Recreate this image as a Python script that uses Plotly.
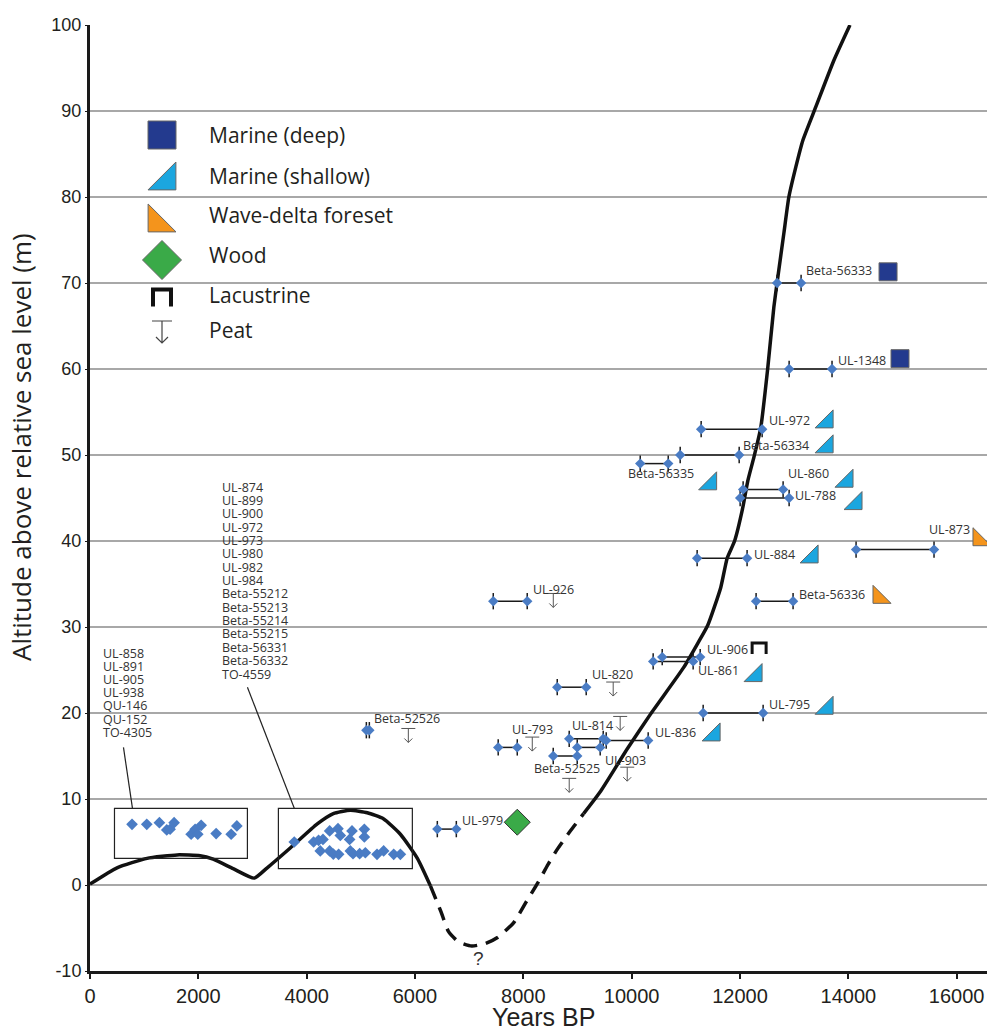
import plotly.graph_objects as go

# ---------------- data ----------------
sample_names = ["Beta-56333", "UL-1348", "UL-972", "Beta-56334", "Beta-56335", "UL-860",
                "UL-788", "UL-873", "UL-884", "Beta-56336", "UL-906", "UL-861", "UL-795",
                "UL-836", "UL-814", "UL-903", "UL-820", "UL-793", "Beta-52525", "UL-926",
                "Beta-52526", "UL-979"]
age_min = [12685, 12907, 11283, 10896, 10158, 12058, 12003, 14143, 11209, 12297, 10564, 10397,
           11320, 9530, 8847, 8995, 8626, 7536, 8552, 7445, 5102, 6412]
age_max = [13128, 13699, 12409, 11985, 10675, 12796, 12907, 15582, 12131, 12980, 11265, 11135,
           12427, 10305, 9475, 9419, 9161, 7888, 8995, 8072, 5157, 6763]
altitude = [70, 60, 53, 50, 49, 46, 45, 39, 38, 33, 26.5, 26, 20, 16.8, 17, 16, 23, 16, 15, 33,
            18, 6.5]
label_x = [13202, 13792, 12519, 12040, 9918, 12869, 12998, 15471, 12242, 13073, 11375, 11209,
           12519, 10416, 8884, 9493, 9253, 7776, 8182, 8164, 5231, 6855]
label_y = [71.5, 61.0, 54.0, 51.1, 47.9, 47.9, 45.3, 41.3, 38.4, 33.8, 27.4, 24.9, 21.0, 17.7,
           18.6, 14.5, 24.5, 18.1, 13.5, 34.4, 19.4, 7.5]

# sample-type symbols
deep_x = [14733, 14954]
deep_y = [71.3, 61.2]
shallow_x = [13608, 13608, 11458, 13976, 14142, 13331, 12297, 13608, 11522]
shallow_y = [53.85, 50.95, 46.65, 46.95, 44.35, 38.15, 24.35, 20.55, 17.45]
foreset_x = [16412, 14566]
foreset_y = [40.15, 33.45]
wood_x = [7888]
wood_y = [7.3]
lacustrine_x = [12353]
lacustrine_y = [27.5]
peat_x = [8553, 9659, 9788, 8165, 8847, 9918, 5877]
peat_y = [33.9, 23.6, 19.6, 17.2, 12.4, 13.7, 18.2]

# clustered Holocene samples (boxes)
box1_x = [776, 1048, 1281, 1417, 1479, 1553, 1867, 1941, 1990, 2052, 2329, 2606, 2711]
box1_y = [7.06, 7.06, 7.25, 6.40, 6.48, 7.25, 5.90, 6.48, 5.90, 6.94, 5.98, 5.90, 6.87]
box2_x = [3771, 4128, 4220, 4301, 4251, 4424, 4424, 4492, 4578, 4590, 4621, 4793, 4837, 4806,
          4856, 4978, 5065, 5065, 5083, 5299, 5421, 5607, 5730]
box2_y = [5.0, 5.0, 5.2, 5.3, 3.96, 6.29, 3.96, 3.6, 6.55, 3.57, 5.77, 5.3, 6.29, 3.96, 3.64,
          3.64, 6.47, 5.59, 3.75, 3.57, 3.96, 3.57, 3.57]
box1_labels = ["UL-858", "UL-891", "UL-905", "UL-938", "QU-146", "QU-152", "TO-4305"]
box2_labels = ["UL-874", "UL-899", "UL-900", "UL-972", "UL-973", "UL-980", "UL-982", "UL-984",
               "Beta-55212", "Beta-55213", "Beta-55214", "Beta-55215", "Beta-56331",
               "Beta-56332", "TO-4559"]

# relative sea-level curve
curve1_x = [0, 499, 1054, 1608, 2033, 2274, 2643, 3031, 3272, 3697, 4196, 4492, 4806, 5120,
            5416, 5730, 6044, 6285]
curve1_y = [0.1, 2.0, 3.1, 3.5, 3.4, 3.0, 1.9, 0.8, 2.0, 4.3, 7.1, 8.3, 8.7, 8.4, 7.7, 5.9,
            3.1, -0.1]
curve2_x = [6285, 6479, 6617, 6800, 7050, 7300, 7523, 7819, 8050, 8281, 8457, 8632, 8870, 9113]
curve2_y = [-0.1, -3.1, -5.4, -6.6, -7.1, -6.8, -6.1, -4.4, -2.0, 0.4, 2.4, 4.2, 6.3, 8.3]
curve3_x = [9113, 9427, 9926, 10351, 10961, 11220, 11405, 11645, 11763, 11900, 12052, 12144,
            12255, 12384, 12514, 12625, 12699, 12810, 12902, 13031, 13161, 13401, 13734, 14030]
curve3_y = [8.3, 10.9, 15.9, 19.9, 25.3, 28.1, 30.2, 34.6, 38.0, 40.0, 43.9, 47.0, 49.7, 53.2,
            60.2, 67.2, 70.7, 75.8, 80.0, 83.5, 86.6, 90.5, 95.9, 100]

x_ticks = [0, 2000, 4000, 6000, 8000, 10000, 12000, 14000, 16000]
y_ticks = [-10, 0, 10, 20, 30, 40, 50, 60, 70, 80, 90, 100]
legend_labels = ["Marine (deep)", "Marine (shallow)", "Wave-delta foreset", "Wood",
                 "Lacustrine", "Peat"]

# ---------------- layout helpers ----------------
W, H = 987, 1030
ML, MR, MT, MB = 90, 0, 25, 59
PW, PH = W - ML - MR, H - MT - MB


def pxx(px):
    return (px - ML) / PW


def pxy(py):
    return (H - MB - py) / PH


LABEL_FONT = dict(family="Open Sans, Noto Sans, sans-serif", size=12.5, color="#333333")
BLUE = "#4a7cc4"

fig = go.Figure()

# curve
for cx, cy, dash in [(curve1_x, curve1_y, "solid"), (curve2_x, curve2_y, "14px,9px"),
                     (curve3_x, curve3_y, "solid")]:
    fig.add_trace(go.Scatter(x=cx, y=cy, mode="lines", line=dict(color="#111111", width=3.5,
                             shape="spline", smoothing=0.5, dash=dash),
                             hoverinfo="skip", showlegend=False))

# range lines
lx, ly = [], []
for a, b, h in zip(age_min, age_max, altitude):
    lx += [a, b, None]
    ly += [h, h, None]
fig.add_trace(go.Scatter(x=lx, y=ly, mode="lines", line=dict(color="#1a1a1a", width=1.5),
                         showlegend=False, hoverinfo="skip"))

# range end points with vertical ticks
px_, py_ = [], []
for a, b, h in zip(age_min, age_max, altitude):
    px_ += [a, b]
    py_ += [h, h]
fig.add_trace(go.Scatter(x=px_, y=py_, mode="markers",
                         marker=dict(symbol="diamond", size=8, color=BLUE),
                         error_y=dict(type="constant", value=0.95, color="#1a1a1a",
                                      thickness=1.5, width=0),
                         showlegend=False))

# box points
fig.add_trace(go.Scatter(x=box1_x + box2_x, y=box1_y + box2_y, mode="markers",
                         marker=dict(symbol="diamond", size=9, color=BLUE),
                         showlegend=False))

# type symbols
fig.add_trace(go.Scatter(x=deep_x, y=deep_y, mode="markers",
                         marker=dict(symbol="square", size=18, color="#233a8e",
                                     line=dict(color="#666666", width=1)), showlegend=False))
fig.add_trace(go.Scatter(x=shallow_x, y=shallow_y, mode="markers",
                         marker=dict(symbol="triangle-se", size=20, color="#1ba6df",
                                     line=dict(color="#666666", width=1)), showlegend=False))
fig.add_trace(go.Scatter(x=foreset_x, y=foreset_y, mode="markers",
                         marker=dict(symbol="triangle-sw", size=20, color="#f4941c",
                                     line=dict(color="#666666", width=1)), showlegend=False))
fig.add_trace(go.Scatter(x=wood_x, y=wood_y, mode="markers",
                         marker=dict(symbol="diamond", size=20, color="#3aaa48",
                                     line=dict(color="#333333", width=1)), showlegend=False))

# sample labels
for name, x, y in zip(sample_names, label_x, label_y):
    fig.add_annotation(x=x, y=y, text=name, showarrow=False, xanchor="left", yanchor="middle",
                       font=LABEL_FONT, borderpad=0)

# lacustrine symbols
for x, y in zip(lacustrine_x, lacustrine_y):
    fig.add_shape(type="path", xref="x", yref="y", xsizemode="pixel", ysizemode="pixel",
                  xanchor=x, yanchor=y, path="M-7,-5.5 V5.5 H7 V-5.5",
                  line=dict(color="#111111", width=3))

# peat symbols
for x, y in zip(peat_x, peat_y):
    fig.add_shape(type="path", xref="x", yref="y", xsizemode="pixel", ysizemode="pixel",
                  xanchor=x, yanchor=y, path="M-7,0 H7 M0,0 V-14 M-4,-10 L0,-14 L4,-10",
                  line=dict(color="#555555", width=1))

# boxes and leader lines
fig.add_shape(type="rect", xref="x", yref="y", x0=452, x1=2906, y0=3.1, y1=8.9,
              line=dict(color="#222222", width=1.2))
fig.add_shape(type="rect", xref="x", yref="y", x0=3478, x1=5951, y0=1.9, y1=8.9,
              line=dict(color="#222222", width=1.2))
fig.add_shape(type="line", xref="x", yref="y", x0=618, y0=16.0, x1=784, y1=8.9,
              line=dict(color="#222222", width=1.2))
fig.add_shape(type="line", xref="x", yref="y", x0=2906, y0=23.0, x1=3773, y1=8.9,
              line=dict(color="#222222", width=1.2))

for i, t in enumerate(box1_labels):
    fig.add_annotation(xref="paper", yref="paper", x=pxx(102), y=pxy(653 + 13.2 * i), text=t,
                       showarrow=False, xanchor="left", yanchor="middle", font=LABEL_FONT,
                       borderpad=0)
for i, t in enumerate(box2_labels):
    fig.add_annotation(xref="paper", yref="paper", x=pxx(221), y=pxy(487 + 13.36 * i), text=t,
                       showarrow=False, xanchor="left", yanchor="middle", font=LABEL_FONT,
                       borderpad=0)

# question mark
fig.add_annotation(x=7168, y=-8.5, text="?", showarrow=False,
                   font=dict(family="Liberation Sans Narrow, Liberation Sans, sans-serif",
                             size=19, color="#333333"))

# ---------------- legend (overlay axes in paper units) ----------------
leg_sym = [
    dict(x=pxx(162), y=pxy(135), symbol="square", size=28, color="#233a8e"),
    dict(x=pxx(166.6), y=pxy(180.6), symbol="triangle-se", size=31, color="#1ba6df"),
    dict(x=pxx(157.4), y=pxy(222.6), symbol="triangle-sw", size=31, color="#f4941c"),
    dict(x=pxx(162), y=pxy(260), symbol="diamond", size=30, color="#3aaa48"),
]
for s in leg_sym:
    fig.add_trace(go.Scatter(x=[s["x"]], y=[s["y"]], xaxis="x2", yaxis="y2", mode="markers",
                             marker=dict(symbol=s["symbol"], size=s["size"], color=s["color"],
                                         line=dict(color="#666666", width=1)),
                             showlegend=False, hoverinfo="skip", cliponaxis=False))
fig.add_shape(type="path", xref="paper", yref="paper", xsizemode="pixel", ysizemode="pixel",
              xanchor=pxx(162), yanchor=pxy(298), path="M-9,-8.5 V8.5 H9 V-8.5",
              line=dict(color="#111111", width=4))
fig.add_shape(type="path", xref="paper", yref="paper", xsizemode="pixel", ysizemode="pixel",
              xanchor=pxx(162), yanchor=pxy(321),
              path="M-10,0 H10 M0,0 V-22 M-6,-16 L0,-22 L6,-16",
              line=dict(color="#444444", width=1.2))
for t, yy in zip(legend_labels, [135, 176, 215, 255, 295, 330]):
    fig.add_annotation(xref="paper", yref="paper", x=pxx(207), y=pxy(yy), text=t,
                       showarrow=False, xanchor="left", yanchor="middle",
                       font=dict(family="Open Sans, Noto Sans, sans-serif", size=21,
                                 color="#231f20"))

# axis titles
fig.add_annotation(xref="paper", yref="paper", x=pxx(21), y=pxy(447),
                   text="Altitude above relative sea level (m)", textangle=-90,
                   showarrow=False, xanchor="center", yanchor="middle",
                   font=dict(family="Open Sans, Noto Sans, sans-serif", size=26,
                             color="#231f20"))
fig.add_annotation(xref="paper", yref="paper", x=pxx(543), y=pxy(1017), text="Years BP",
                   showarrow=False, xanchor="center", yanchor="middle",
                   font=dict(family="Liberation Sans, Arial, sans-serif", size=25,
                             color="#231f20"))

fig.update_layout(
    width=W, height=H,
    margin=dict(l=ML, r=MR, t=MT, b=MB, autoexpand=False),
    paper_bgcolor="white", plot_bgcolor="white",
    showlegend=False,
    xaxis=dict(range=[0, 16560], tickvals=x_ticks, ticktext=[str(v) for v in x_ticks],
               showgrid=False, zeroline=False, automargin=False,
               showline=True, linecolor="#1a1a1a", linewidth=3, ticks="outside", ticklen=5,
               tickwidth=1.5, tickcolor="#1a1a1a",
               tickfont=dict(family="Liberation Sans, Arial, sans-serif", size=20,
                             color="#231f20")),
    yaxis=dict(range=[-10, 100], tickvals=y_ticks, ticktext=[str(v) for v in y_ticks],
               showgrid=True, gridcolor="#a8a8a8", gridwidth=1.5, automargin=False,
               zeroline=False, showline=True, linecolor="#1a1a1a", linewidth=3,
               ticks="outside", ticklen=2, tickcolor="#1a1a1a",
               tickfont=dict(family="Liberation Sans, Arial, sans-serif", size=18,
                             color="#231f20")),
    xaxis2=dict(range=[0, 1], overlaying="x", visible=False, anchor="y2"),
    yaxis2=dict(range=[0, 1], overlaying="y", visible=False, anchor="x2"),
)

fig.write_html("out.html", config={"displayModeBar": False},
               post_script="document.body.style.margin='0px';"
                           "document.body.style.overflow='hidden';")
